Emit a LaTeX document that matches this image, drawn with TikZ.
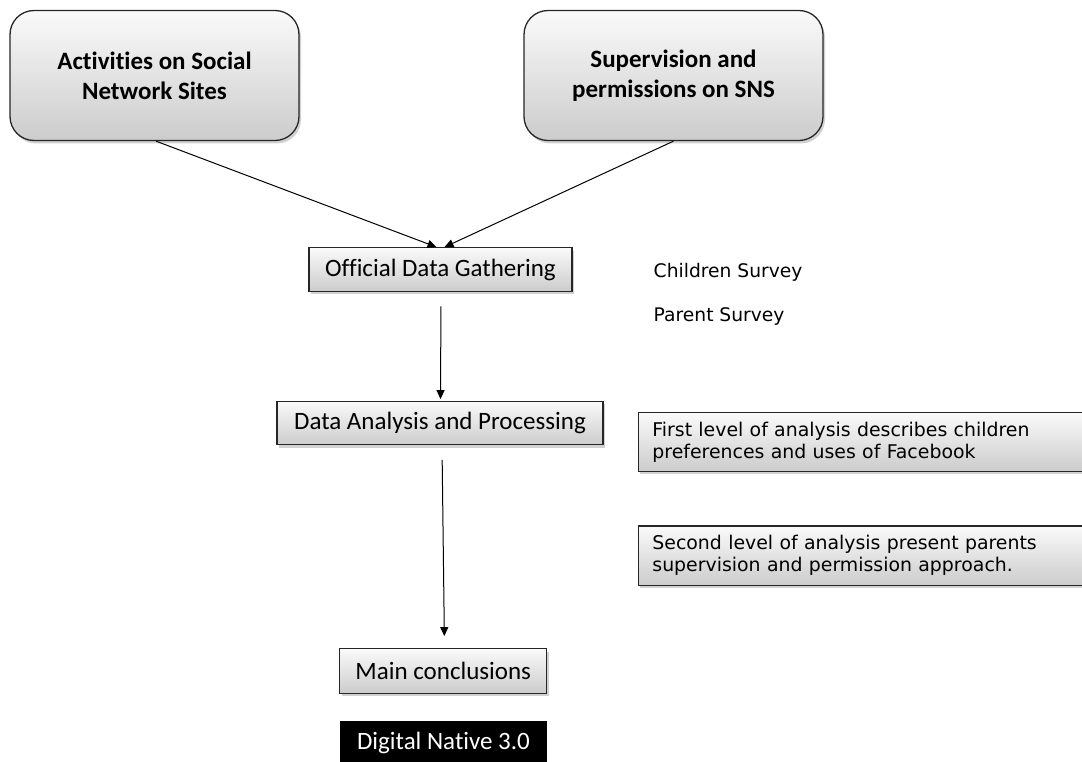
\documentclass[tikz,border=0pt]{standalone}
\usepackage{fontspec}
\setmainfont[Ligatures=NoCommon]{Carlito}
\newfontfamily\verd{DejaVu Sans}
\usetikzlibrary{shadows,arrows.meta}
\tikzset{
  gbox/.style={draw=black!85, line width=1.3pt, top color=gray!4, bottom color=gray!40,
    drop shadow={shadow xshift=2pt, shadow yshift=-3pt, opacity=0.3, fill=black!60},
    inner sep=0pt, align=center},
  bigbox/.style={gbox, rounded corners=24pt, font=\fontsize{25}{30}\selectfont\bfseries},
  stepbox/.style={gbox, font=\fontsize{25}{30}\selectfont},
  sidebox/.style={gbox, line width=1.1pt, font=\verd\fontsize{18.9}{22}\selectfont, align=left,
    text width=500pt, inner xsep=14pt},
  sidetxt/.style={font=\verd\fontsize{18.7}{22}\selectfont, anchor=west, inner sep=0pt},
  arr/.style={-{Triangle[length=9pt,width=8pt]}, line width=1pt, black},
}
\begin{document}
\begin{tikzpicture}[x=1pt,y=-1pt]
\useasboundingbox (0,0) rectangle (1082,762);
\clip (0,0) rectangle (1082,762);
\node[bigbox, minimum width=289pt, minimum height=130pt] (A) at (154.5,75.5) {Activities on Social\\Network Sites};
\node[bigbox, minimum width=299pt, minimum height=130pt] (B) at (673.5,75.5) {Supervision and\\permissions on SNS};
\node[stepbox, minimum width=263pt, minimum height=43.5pt] (ODG) at (440.5,269.5) {Official Data Gathering};
\node[stepbox, minimum width=326pt, minimum height=43.5pt] (DAP) at (440,423) {Data Analysis and Processing};
\node[stepbox, minimum width=207pt, minimum height=44.5pt] (MC) at (443.3,671) {Main conclusions};
\node[fill=black, text=white, minimum width=207pt, minimum height=44pt, inner sep=0pt,
  font=\fontsize{25}{30}\selectfont] (DN) at (443.5,742.6) {Digital Native 3.0};
\node[sidetxt] (CS) at (653.5,272) {Children Survey};
\node[sidetxt] (PS) at (653.5,317) {Parent Survey};
\node[sidebox, minimum width=528pt, minimum height=58.5pt] (S1) at (902.4,441.8) {\raisebox{-2pt}{\parbox{500pt}{First level of analysis describes children\\preferences and uses of Facebook}}};
\node[sidebox, minimum width=528pt, minimum height=59.5pt] (S2) at (902.4,555.7) {\raisebox{-2pt}{\parbox{500pt}{Second level of analysis present parents\\supervision and permission approach.}}};
\draw[arr] ([xshift=1.5pt]A.south) -- ([xshift=-4pt]ODG.north);
\draw[arr] (B.south) -- ([xshift=4pt]ODG.north);
\draw[arr, shorten <=14.5pt, shorten >=1.5pt] ([xshift=0.5pt]ODG.south) -- ([xshift=0.5pt]DAP.north);
\draw[arr, shorten <=14.5pt, shorten >=12pt] ([xshift=2pt]DAP.south) -- ([xshift=1.2pt]MC.north);
\end{tikzpicture}
\end{document}
